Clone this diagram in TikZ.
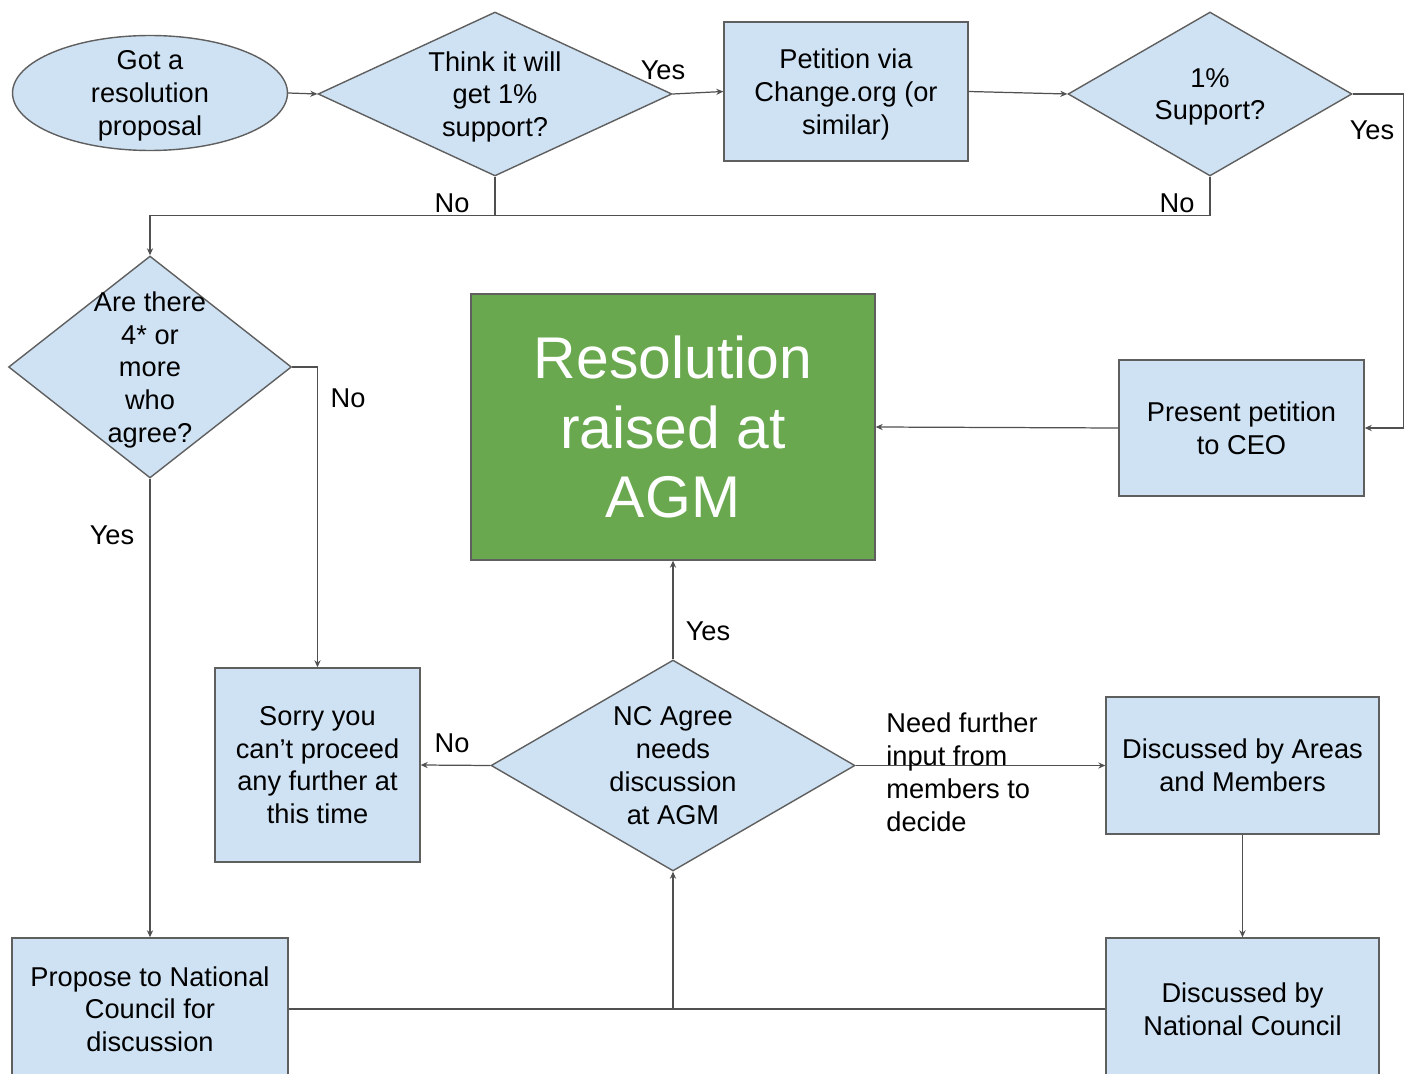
\documentclass[tikz,border=0pt]{standalone}
\usepackage{fontspec}
\setmainfont{Liberation Sans}
\usetikzlibrary{shapes.geometric,arrows.meta}
\definecolor{boxblue}{HTML}{CFE2F3}
\definecolor{agmgreen}{HTML}{6AA84F}
\definecolor{edgegray}{HTML}{5F5F5F}
\definecolor{linegray}{HTML}{505050}
\tikzset{
  every node/.style={font=\fontsize{15.5}{18.7}\selectfont},
  stepbox/.style={draw=edgegray, line width=0.8pt, fill=boxblue, align=center, inner sep=2pt, text depth=0pt},
  decision/.style={diamond, draw=edgegray, line width=0.8pt, fill=boxblue, inner sep=0pt},
  startnode/.style={ellipse, draw=edgegray, line width=0.8pt, fill=boxblue, inner sep=0pt},
  incenter/.style={label={[align=center, text depth=0pt]center:#1}},
  arr/.style={draw=linegray, line width=0.7pt, -{Stealth[length=4pt,width=3.5pt]}},
  link/.style={draw=linegray, line width=0.7pt},
  lbl/.style={inner sep=0pt}
}
\begin{document}
\begin{tikzpicture}[x=0.02cm,y=-0.02cm]
  \clip (0,0) rectangle (1410,1074);

  % top row
  \node[startnode, minimum width=5.5cm, minimum height=2.3cm,
        incenter={Got a\\resolution\\proposal}] (start) at (150,93) {};
  \node[decision, minimum width=7.08cm, minimum height=3.28cm,
        incenter={Think it will\\get 1\%\\support?}] (think) at (495,94) {};
  \node[stepbox, minimum width=4.88cm, minimum height=2.78cm] (petition) at (846,91.5)
        {Petition via\\Change.org (or\\similar)};
  \node[decision, minimum width=5.68cm, minimum height=3.28cm,
        incenter={1\%\\Support?}] (support) at (1210,94) {};

  % middle
  \node[decision, minimum width=5.66cm, minimum height=4.44cm,
        incenter={Are there\\4* or\\more\\who\\agree?}] (four) at (150,367) {};
  \node[draw=edgegray, line width=0.8pt, fill=agmgreen, text=white, align=center,
        minimum width=8.08cm, minimum height=5.32cm,
        font=\fontsize{33.5}{39.7}\selectfont] (agm) at (673,427)
        {Resolution\\raised at\\AGM};
  \node[stepbox, minimum width=4.9cm, minimum height=2.72cm] (ceo) at (1241.5,428)
        {Present petition\\to CEO};

  % lower
  \node[stepbox, minimum width=4.1cm, minimum height=3.88cm] (sorry) at (317.5,765)
        {Sorry you\\can't proceed\\any further at\\this time};
  \node[decision, minimum width=7.28cm, minimum height=4.22cm,
        incenter={NC Agree\\needs\\discussion\\at AGM}] (ncagree) at (673,765.5) {};
  \node[stepbox, minimum width=5.46cm, minimum height=2.74cm] (areas) at (1242.5,765.5)
        {Discussed by Areas\\and Members};
  \node[stepbox, minimum width=5.52cm, minimum height=2.84cm] (propose) at (150,1009)
        {Propose to National\\Council for\\discussion};
  \node[stepbox, minimum width=5.46cm, minimum height=2.84cm] (council) at (1242.5,1009)
        {Discussed by\\National Council};

  % connectors
  \draw[arr] (start.east) -- (think.west);
  \draw[arr] (think.east) -- (petition.west);
  \draw[arr] (petition.east) -- (support.west);
  \draw[arr] (support.east) -- ++(51,0) |- (ceo.east);
  \draw[arr] (support.south) -- ++(0,39) -| (four.north);
  \draw[link] (think.south) -- ++(0,39);
  \draw[arr] (ceo.west) -- (agm.east);
  \draw[arr] (four.east) -| (sorry.north);
  \draw[arr] (four.south) -- (propose.north);
  \draw[arr] (ncagree.north) -- (agm.south);
  \draw[arr] (ncagree.west) -- (sorry.east);
  \draw[arr] (ncagree.east) -- (areas.west);
  \draw[arr] (areas.south) -- (council.north);
  \draw[link] (propose.east) -- (council.west);
  \draw[arr] (ncagree.south |- propose.east) -- (ncagree.south);

  % labels
  \node[lbl] (yes-think) at (663,70) {Yes};
  \node[lbl] (no-think) at (452,203) {No};
  \node[lbl] (no-support) at (1177,203) {No};
  \node[lbl] (yes-support) at (1372,130) {Yes};
  \node[lbl] (no-four) at (348,398) {No};
  \node[lbl] (yes-four) at (112,535) {Yes};
  \node[lbl] (yes-nc) at (708,631) {Yes};
  \node[lbl] (no-nc) at (452,743) {No};
  \node[lbl, anchor=west, align=left] (further) at (886,772)
        {Need further\\input from\\members to\\decide};
\end{tikzpicture}
\end{document}
